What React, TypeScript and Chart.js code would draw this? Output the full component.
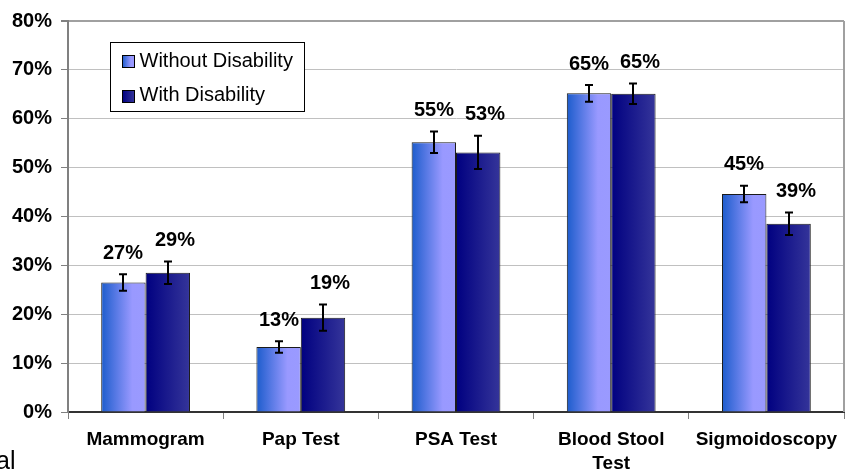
import React, { useEffect, useRef } from 'react';
import { Chart, registerables } from 'chart.js';

Chart.register(...registerables);

// ---- data ----
const categories: (string | string[])[] = ['Mammogram', 'Pap Test', 'PSA Test', ['Blood Stool', 'Test'], 'Sigmoidoscopy'];
const seriesNames = ['Without Disability', 'With Disability'];
const withoutDisability = [26.5, 13.3, 55.2, 65.2, 44.6];
const withDisability = [28.5, 19.3, 53.1, 65.1, 38.5];
const withoutError = [1.7, 1.2, 2.2, 1.7, 1.7];
const withError = [2.3, 2.7, 3.4, 2.1, 2.3];
const yMin = 0;
const yMax = 80;
const yStep = 10;

// ---- styles ----
const FONT = "'Liberation Sans', Arial, Helvetica, sans-serif";
const stopsWithout: [number, string][] = [[0, '#1c5ccc'], [0.7, '#9999ff'], [1, '#9a9aff']];
const stopsWith: [number, string][] = [[0, '#000080'], [1, '#35359a']];
const fallbackWithout = '#6f86ee';
const fallbackWith = '#1a1a8c';

function makeGradient(ctx: CanvasRenderingContext2D, left: number, right: number, stops: [number, string][]) {
  const g = ctx.createLinearGradient(left, 0, right, 0);
  stops.forEach(([o, c]) => g.addColorStop(o, c));
  return g;
}

function barFill(stops: [number, string][], fallback: string) {
  return (c: any) => {
    const el = c.element;
    if (!el || typeof el.x !== 'number' || !isFinite(el.x) || !el.width) return fallback;
    return makeGradient(c.chart.ctx, el.x - el.width / 2, el.x + el.width / 2, stops);
  };
}

const overlayPlugin = {
  id: 'overlay',
  afterDatasetsDraw(chart: any) {
    const { ctx, chartArea } = chart;
    const yScale = chart.scales.y;
    ctx.save();

    // right plot border
    ctx.strokeStyle = '#a0a0a0';
    ctx.lineWidth = 2;
    ctx.beginPath();
    ctx.moveTo(chartArea.right, chartArea.top);
    ctx.lineTo(chartArea.right, chartArea.bottom);
    ctx.stroke();

    // error bars + value labels
    chart.data.datasets.forEach((ds: any, di: number) => {
      const meta = chart.getDatasetMeta(di);
      meta.data.forEach((bar: any, i: number) => {
        const v = ds.data[i];
        const e = ds.errors[i];
        const yTop = yScale.getPixelForValue(v + e);
        const yBot = yScale.getPixelForValue(v - e);
        const x = Math.round(bar.x);
        ctx.strokeStyle = '#000';
        ctx.lineWidth = 2;
        ctx.beginPath();
        ctx.moveTo(x, yTop);
        ctx.lineTo(x, yBot);
        ctx.moveTo(x - 4, yTop);
        ctx.lineTo(x + 4, yTop);
        ctx.moveTo(x - 4, yBot);
        ctx.lineTo(x + 4, yBot);
        ctx.stroke();

        ctx.fillStyle = '#000';
        ctx.font = `bold 20px ${FONT}`;
        ctx.textAlign = 'center';
        ctx.textBaseline = 'middle';
        ctx.fillText(Math.round(v) + '%', x + (di === 1 ? 7 : 0), yTop - 21);
      });
    });

    // legend box
    const bx = Math.round(chartArea.left + 42) + 0.5;
    const by = Math.round(chartArea.top + 21) + 0.5;
    const bw = 194;
    const bh = 69;
    ctx.fillStyle = '#fff';
    ctx.fillRect(bx, by, bw, bh);
    ctx.strokeStyle = '#000';
    ctx.lineWidth = 1;
    ctx.strokeRect(bx, by, bw, bh);
    const rows = [by + 18.5, by + 53];
    const stopsList = [stopsWithout, stopsWith];
    chart.data.datasets.forEach((ds: any, di: number) => {
      const cy = rows[di];
      const sx = bx + 12;
      const sy = Math.round(cy - 6) + 0.5;
      ctx.fillStyle = makeGradient(ctx, sx, sx + 12, stopsList[di]);
      ctx.fillRect(sx, sy, 12, 12);
      ctx.strokeStyle = '#000';
      ctx.lineWidth = 1;
      ctx.strokeRect(sx, sy, 12, 12);
      ctx.fillStyle = '#000';
      ctx.font = `20px ${FONT}`;
      ctx.textAlign = 'left';
      ctx.textBaseline = 'middle';
      ctx.fillText(ds.label, bx + 29, cy);
    });

    ctx.restore();
  },
};

export default function App() {
  const canvasRef = useRef<HTMLCanvasElement | null>(null);

  useEffect(() => {
    if (!canvasRef.current) return;
    const chart = new Chart(canvasRef.current, {
      type: 'bar',
      data: {
        labels: categories as any,
        datasets: [
          {
            label: seriesNames[0],
            data: withoutDisability,
            errors: withoutError,
            backgroundColor: barFill(stopsWithout, fallbackWithout),
            borderColor: '#1a1a1a',
            borderWidth: 1,
            categoryPercentage: 0.572,
            barPercentage: 1.0,
          } as any,
          {
            label: seriesNames[1],
            data: withDisability,
            errors: withError,
            backgroundColor: barFill(stopsWith, fallbackWith),
            borderColor: '#1a1a1a',
            borderWidth: 1,
            categoryPercentage: 0.572,
            barPercentage: 1.0,
          } as any,
        ],
      },
      options: {
        animation: false,
        responsive: false,
        maintainAspectRatio: false,
        layout: { padding: { top: 20, right: 9, left: 0, bottom: 0 } },
        plugins: {
          legend: { display: false },
          tooltip: { enabled: false },
        },
        scales: {
          x: {
            grid: {
              display: true,
              offset: true,
              drawOnChartArea: false,
              drawTicks: true,
              tickLength: 7,
              color: '#808080',
              tickColor: '#808080',
            },
            border: { display: true, color: '#333333', width: 2 },
            ticks: {
              color: '#000',
              padding: 9,
              maxRotation: 0,
              autoSkip: false,
              font: { family: FONT, size: 19, weight: 'bold', lineHeight: 1.25 },
            },
            afterFit: (s: any) => {
              s.height = 61;
            },
          },
          y: {
            min: yMin,
            max: yMax,
            ticks: {
              stepSize: yStep,
              color: '#000',
              padding: 9,
              font: { family: FONT, size: 20, weight: 'bold' },
              callback: (v: any) => v + '%',
            },
            grid: {
              color: (c: any) => (c.tick && c.tick.value === yMax ? '#a0a0a0' : '#c0c0c0'),
              lineWidth: (c: any) => (c.tick && c.tick.value === yMax ? 2 : 1),
              tickColor: '#808080',
              tickLength: 7,
            },
            border: { display: true, color: '#808080', width: 2 },
            afterFit: (s: any) => {
              s.width = 68;
            },
          },
        },
      } as any,
      plugins: [overlayPlugin],
    });
    chart.update();
    return () => chart.destroy();
  }, []);

  return (
    <div style={{ position: 'fixed', left: 0, top: 0, width: 853, height: 473, background: '#fff', overflow: 'hidden' }}>
      <canvas ref={canvasRef} width={853} height={473} style={{ display: 'block', width: 853, height: 473 }} />
      <div
        style={{
          position: 'absolute',
          left: -4,
          top: 448,
          fontFamily: FONT,
          fontSize: 25,
          lineHeight: '25px',
          color: '#000',
          whiteSpace: 'nowrap',
        }}
      >
        al
      </div>
    </div>
  );
}
